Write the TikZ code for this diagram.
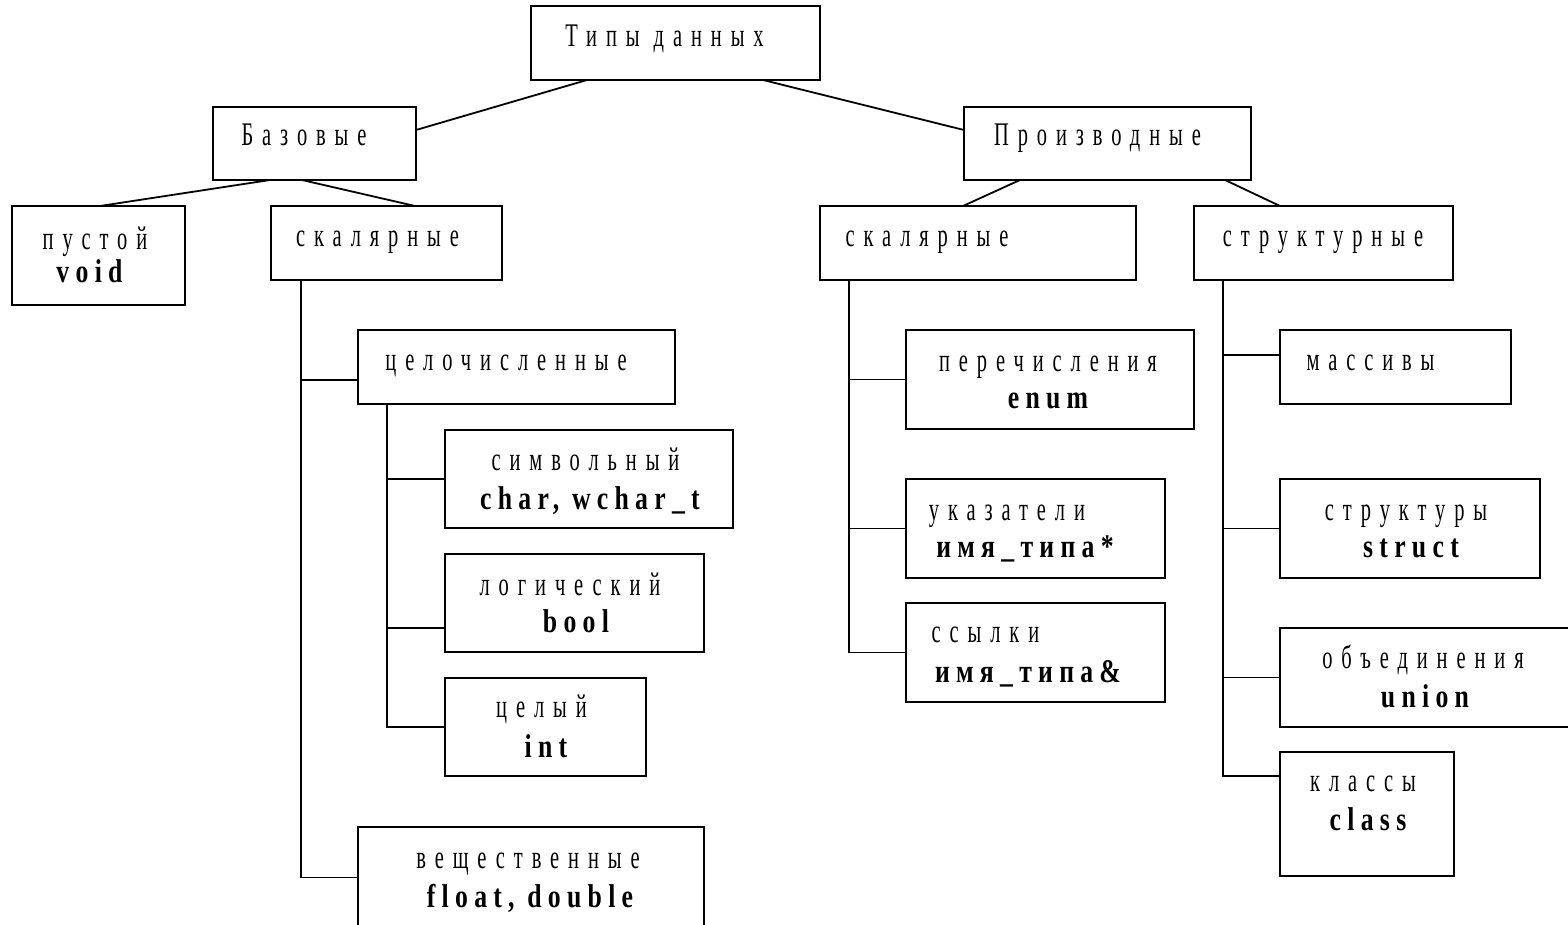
\documentclass[tikz,border=0pt]{standalone}
\usepackage{fontspec}
\setmainfont{Liberation Serif}
\newfontfamily\dfont[FakeStretch=0.62,LetterSpace=27]{Liberation Serif}
\newfontfamily\dbfont[FakeStretch=0.78,LetterSpace=19]{Liberation Serif}
\newcommand{\rt}[1]{{\dfont #1}}
\newcommand{\bt}[1]{{\dbfont\bfseries #1}}
\begin{document}
\begin{tikzpicture}[x=1pt,y=-1pt,
  box/.style={draw,line width=2pt,inner sep=0pt,outer sep=0pt},
  lbl/.style={anchor=base,inner sep=0pt,font=\fontsize{33}{36}\selectfont},
  con/.style={line width=1.8pt},
  thn/.style={line width=1.1pt}]
\useasboundingbox (0,0) rectangle (1568,925);
\fill[white] (0,0) rectangle (1568,925);
% boxes
\node[box,minimum width=289pt,minimum height=74pt] (types) at (675.5,43) {};
\node[box,minimum width=203pt,minimum height=73pt] (bas) at (314.5,143.5) {};
\node[box,minimum width=287pt,minimum height=73pt] (proiz) at (1107.5,143.5) {};
\node[box,minimum width=173pt,minimum height=99pt] (void) at (98.5,255.5) {};
\node[box,minimum width=231pt,minimum height=74pt] (scalL) at (386.5,243) {};
\node[box,minimum width=316pt,minimum height=74pt] (scalR) at (978,243) {};
\node[box,minimum width=259pt,minimum height=74pt] (struct) at (1323.5,243) {};
\node[box,minimum width=317pt,minimum height=74pt] (integ) at (516.5,367) {};
\node[box,minimum width=288pt,minimum height=98pt] (char) at (589,479) {};
\node[box,minimum width=259pt,minimum height=98pt] (bool) at (574.5,603) {};
\node[box,minimum width=201pt,minimum height=98pt] (int) at (545.5,727) {};
\node[box,minimum width=346pt,minimum height=104pt] (float) at (531,879) {};
\node[box,minimum width=288pt,minimum height=99pt] (enum) at (1050,379.5) {};
\node[box,minimum width=259pt,minimum height=99pt] (ptr) at (1035.5,528.5) {};
\node[box,minimum width=259pt,minimum height=99pt] (ref) at (1035.5,652.5) {};
\node[box,minimum width=231pt,minimum height=74pt] (arr) at (1395.5,367) {};
\node[box,minimum width=260pt,minimum height=99pt] (structs) at (1410,528.5) {};
\node[box,minimum width=292pt,minimum height=99pt] (union) at (1426,677.5) {};
\node[box,minimum width=174pt,minimum height=124pt] (class) at (1367,814) {};
% texts
\node[lbl] (t-types) at (664.5,47) {\rt{Типы данных}};
\node[lbl] (t-bas) at (304,146) {\rt{Базовые}};
\node[lbl] (t-proiz) at (1097.5,146) {\rt{Производные}};
\node[lbl] (t-void1) at (95,250) {\rt{пустой}};
\node[lbl] (t-void2) at (89.5,283) {\bt{void}};
\node[lbl] (t-scalL) at (377.5,247) {\rt{скалярные}};
\node[lbl] (t-scalR) at (927,247) {\rt{скалярные}};
\node[lbl] (t-struct) at (1323,247) {\rt{структурные}};
\node[lbl] (t-integ) at (506,370) {\rt{целочисленные}};
\node[lbl] (t-char1) at (585.5,470.5) {\rt{символьный}};
\node[lbl] (t-char2) at (590,509) {\bt{char, wchar\_t}};
\node[lbl] (t-bool1) at (570,595) {\rt{логический}};
\node[lbl] (t-bool2) at (576,632) {\bt{bool}};
\node[lbl] (t-int1) at (541.5,717.5) {\rt{целый}};
\node[lbl] (t-int2) at (546,757) {\bt{int}};
\node[lbl] (t-float1) at (528,868) {\rt{вещественные}};
\node[lbl] (t-float2) at (530,907) {\bt{float, double}};
\node[lbl] (t-enum1) at (1048,371) {\rt{перечисления}};
\node[lbl] (t-enum2) at (1048,408.5) {\bt{enum}};
\node[lbl] (t-ptr1) at (1007,520) {\rt{указатели}};
\node[lbl] (t-ptr2) at (1025,557) {\bt{имя\_типа*}};
\node[lbl] (t-ref1) at (985.5,642.5) {\rt{ссылки}};
\node[lbl] (t-ref2) at (1028,682.5) {\bt{имя\_типа\&}};
\node[lbl] (t-arr) at (1370.5,370) {\rt{массивы}};
\node[lbl] (t-structs1) at (1406,520) {\rt{структуры}};
\node[lbl] (t-structs2) at (1411,557) {\bt{struct}};
\node[lbl] (t-union1) at (1423,668.5) {\rt{объединения}};
\node[lbl] (t-union2) at (1425,707) {\bt{union}};
\node[lbl] (t-class1) at (1363,791.5) {\rt{классы}};
\node[lbl] (t-class2) at (1368,830) {\bt{class}};
% connectors
\draw[con] ([xshift=56pt]types.south west) -- ([yshift=13.5pt]bas.east);
\draw[con] ([xshift=-57pt]types.south east) -- ([yshift=13.5pt]proiz.west);
\draw[con] ([xshift=57pt]bas.south west) -- ([xshift=88pt]void.north west);
\draw[con] ([xshift=89pt]bas.south west) -- ([xshift=-87pt]scalL.north east);
\draw[con] ([xshift=56pt]proiz.south west) -- ([xshift=143pt]scalR.north west);
\draw[con] ([xshift=-26pt]proiz.south east) -- ([xshift=86pt]struct.north west);
% left scalar tree
\draw[con] ([xshift=30pt]scalL.south west) |- ([yshift=1.5pt]float.west);
\draw[thn] ([xshift=30pt]scalL.south west) |- ([yshift=-13pt]integ.west);
\draw[con] ([xshift=29pt]integ.south west) |- (int.west);
\draw[con] ([xshift=29pt]integ.south west) |- (char.west);
\draw[con] ([xshift=29pt]integ.south west) |- ([yshift=-25pt]bool.west);
% right scalar tree
\draw[thn] ([xshift=29pt]scalR.south west) |- (enum.west);
\draw[thn] ([xshift=29pt]scalR.south west) |- (ptr.west);
\draw[con] ([xshift=29pt]scalR.south west) |- (ref.west);
% structured tree
\draw[thn] ([xshift=29pt]struct.south west) |- ([yshift=12pt]arr.west);
\draw[thn] ([xshift=29pt]struct.south west) |- (structs.west);
\draw[thn] ([xshift=29pt]struct.south west) |- (union.west);
\draw[con] ([xshift=29pt]struct.south west) |- ([yshift=38pt]class.west);
\end{tikzpicture}
\end{document}
